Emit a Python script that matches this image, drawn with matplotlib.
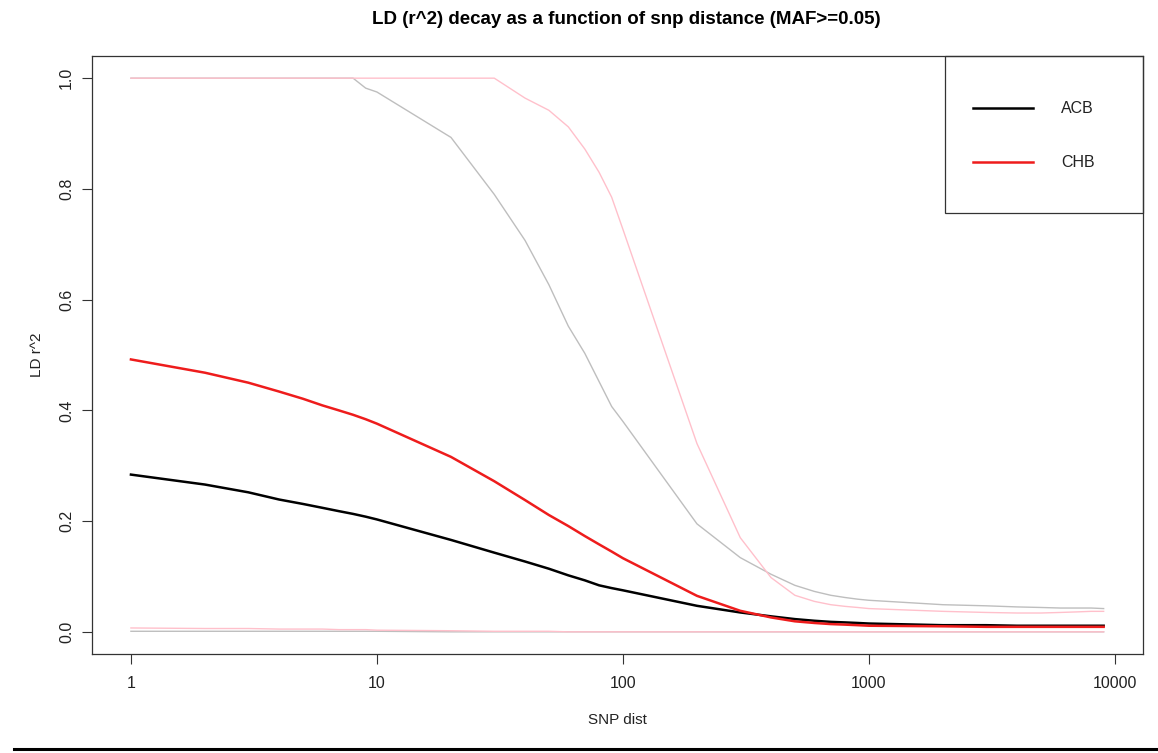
import matplotlib
matplotlib.use("Agg")
import matplotlib.pyplot as plt
from matplotlib.lines import Line2D
from matplotlib.patches import Rectangle

plt.rcParams['font.family'] = ['Liberation Sans', 'DejaVu Sans']

# snp distance bins
dist = [1, 2, 3, 4, 5, 6, 7, 8, 9,
        10, 20, 30, 40, 50, 60, 70, 80, 90,
        100, 200, 300, 400, 500, 600, 700, 800, 900,
        1000, 2000, 3000, 4000, 5000, 6000, 7000, 8000, 9000]

# mean r^2
acb_mean = [0.284, 0.266, 0.252, 0.239, 0.231, 0.224, 0.218, 0.213, 0.208,
            0.203, 0.166, 0.143, 0.127, 0.114, 0.102, 0.093, 0.084, 0.079,
            0.075, 0.047, 0.035, 0.028, 0.023, 0.020, 0.018, 0.017, 0.016,
            0.015, 0.012, 0.012, 0.011, 0.011, 0.011, 0.011, 0.011, 0.011]
chb_mean = [0.492, 0.468, 0.450, 0.434, 0.421, 0.409, 0.400, 0.392, 0.384,
            0.376, 0.316, 0.272, 0.238, 0.211, 0.191, 0.173, 0.158, 0.145,
            0.133, 0.065, 0.038, 0.026, 0.019, 0.016, 0.014, 0.013, 0.012,
            0.011, 0.010, 0.009, 0.009, 0.009, 0.009, 0.009, 0.009, 0.009]

# upper / lower quantiles
acb_hi = [1.0, 1.0, 1.0, 1.0, 1.0, 1.0, 1.0, 1.0, 0.982,
          0.975, 0.893, 0.790, 0.707, 0.627, 0.552, 0.503, 0.452, 0.407,
          0.380, 0.195, 0.134, 0.104, 0.084, 0.073, 0.066, 0.062, 0.059,
          0.057, 0.049, 0.047, 0.045, 0.044, 0.043, 0.043, 0.043, 0.042]
chb_hi = [1.0, 1.0, 1.0, 1.0, 1.0, 1.0, 1.0, 1.0, 1.0,
          1.0, 1.0, 1.0, 0.964, 0.942, 0.912, 0.872, 0.830, 0.785,
          0.727, 0.340, 0.170, 0.098, 0.066, 0.055, 0.049, 0.046, 0.044,
          0.042, 0.037, 0.035, 0.034, 0.034, 0.035, 0.036, 0.037, 0.037]
acb_lo = [0.001, 0.001, 0.001, 0.001, 0.001, 0.001, 0.001, 0.001, 0.001,
          0.001, 0.0, 0.0, 0.0, 0.0, 0.0, 0.0, 0.0, 0.0,
          0.0, 0.0, 0.0, 0.0, 0.0, 0.0, 0.0, 0.0, 0.0,
          0.0, 0.0, 0.0, 0.0, 0.0, 0.0, 0.0, 0.0, 0.0]
chb_lo = [0.007, 0.006, 0.006, 0.005, 0.005, 0.005, 0.004, 0.004, 0.004,
          0.003, 0.002, 0.001, 0.001, 0.001, 0.0, 0.0, 0.0, 0.0,
          0.0, 0.0, 0.0, 0.0, 0.0, 0.0, 0.0, 0.0, 0.0,
          0.0, 0.0, 0.0, 0.0, 0.0, 0.0, 0.0, 0.0, 0.0]

pops = ['ACB', 'CHB']
x_ticks = [1, 10, 100, 1000, 10000]
y_ticks = [0.0, 0.2, 0.4, 0.6, 0.8, 1.0]

fig = plt.figure(figsize=(11.58, 7.53), dpi=100)
ax = fig.add_axes([0.0794, 0.1315, 0.9076, 0.7941])

ax.plot(dist, acb_hi, color='#BEBEBE', lw=1.0)
ax.plot(dist, acb_lo, color='#BEBEBE', lw=1.0)
ax.plot(dist, chb_hi, color='#FFC0CB', lw=1.0)
ax.plot(dist, chb_lo, color='#FFC0CB', lw=1.0)
ax.plot(dist, acb_mean, color='black', lw=1.8)
ax.plot(dist, chb_mean, color='#EE1C1C', lw=1.8)

ax.set_xscale('log')
ax.set_xlim(10 ** -0.1585, 10 ** 4.114)
ax.set_ylim(-0.04, 1.04)
ax.set_xticks(x_ticks)
ax.set_xticklabels([str(t) for t in x_ticks])
ax.minorticks_off()
ax.set_yticks(y_ticks)
ax.set_yticklabels(['%.1f' % t for t in y_ticks], rotation=90, va='center')
ax.tick_params(axis='both', length=7, width=0.8, color='#333333',
               labelsize=11.5, labelcolor='#222222', pad=9)
ax.tick_params(axis='y', pad=6)

for s in ax.spines.values():
    s.set_color('#333333')
    s.set_linewidth(0.9)

ax.set_xlabel('SNP dist', fontsize=11, labelpad=16, color='#222222')
ax.set_ylabel('LD r^2', fontsize=11, labelpad=11, color='#222222')
fig.suptitle('LD (r^2) decay as a function of snp distance (MAF>=0.05)',
             fontsize=13.5, fontweight='bold', x=0.541, y=0.985)

# legend box in the top right corner, R style
ax.add_patch(Rectangle((0.8116, 0.7375), 0.1884, 0.2625, transform=ax.transAxes,
                       fill=False, edgecolor='#333333', lw=0.9, clip_on=False))
leg_y = [0.913, 0.8227]
leg_c = ['black', '#EE1C1C']
for yy, cc, name in zip(leg_y, leg_c, pops):
    ax.plot([0.838, 0.8953], [yy, yy], color=cc, lw=1.8, transform=ax.transAxes)
    ax.text(0.922, yy, name, transform=ax.transAxes, fontsize=11.5,
            va='center', ha='left', color='#222222')

# thick rule at the bottom of the screenshot
fig.add_artist(Line2D([0.012, 1.0], [0.0053, 0.0053], color='black', lw=2.2))

fig.savefig('out.png', dpi=100)
